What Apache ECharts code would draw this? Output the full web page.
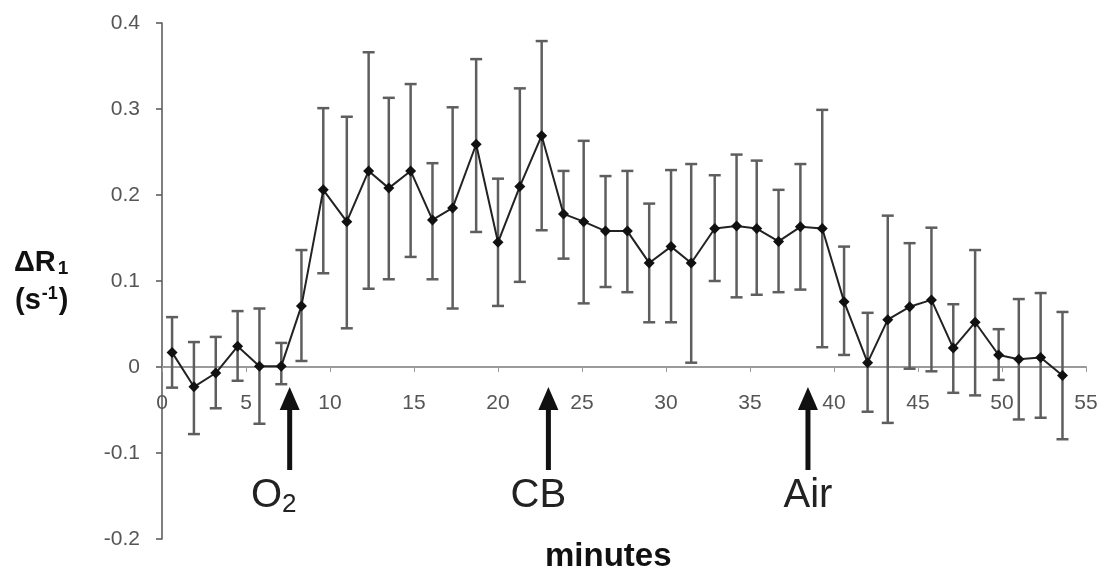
<!DOCTYPE html>
<html>
<head>
<meta charset="utf-8">
<script src="https://cdn.jsdelivr.net/npm/echarts@6/dist/echarts.min.js"></script>
<style>
html,body{margin:0;padding:0;background:#fff;}
#chart{width:1112px;height:572px;}
</style>
</head>
<body>
<div id="chart"></div>
<script>
// ---- data ----
var minutes = [0.6,1.9,3.2,4.5,5.8,7.1,8.3,9.6,11.0,12.3,13.5,14.8,16.1,17.3,18.7,20.0,21.3,22.6,23.9,25.1,26.4,27.7,29.0,30.3,31.5,32.9,34.2,35.4,36.7,38.0,39.3,40.6,42.0,43.2,44.5,45.8,47.1,48.4,49.8,51.0,52.3,53.6];
var meanR1 = [0.017,-0.023,-0.007,0.024,0.001,0.001,0.071,0.206,0.169,0.228,0.208,0.228,0.171,0.185,0.259,0.145,0.210,0.269,0.178,0.169,0.158,0.158,0.121,0.140,0.121,0.161,0.164,0.161,0.146,0.163,0.161,0.076,0.005,0.055,0.070,0.078,0.022,0.052,0.014,0.009,0.011,-0.010];
var errTop = [0.058,0.029,0.035,0.065,0.068,0.028,0.136,0.301,0.291,0.366,0.313,0.329,0.237,0.302,0.358,0.219,0.324,0.379,0.228,0.263,0.222,0.228,0.190,0.229,0.236,0.223,0.247,0.240,0.206,0.236,0.299,0.140,0.063,0.176,0.144,0.162,0.073,0.136,0.044,0.079,0.086,0.064];
var errBottom = [-0.024,-0.078,-0.048,-0.016,-0.066,-0.020,0.007,0.109,0.045,0.091,0.102,0.128,0.102,0.068,0.157,0.071,0.099,0.159,0.126,0.074,0.093,0.087,0.052,0.052,0.005,0.100,0.081,0.084,0.087,0.090,0.023,0.014,-0.052,-0.065,-0.002,-0.005,-0.030,-0.033,-0.015,-0.061,-0.059,-0.084];
var eventNames = ['O2','CB','Air'];
var eventTimes = [7.6,23.0,38.45];
var yTicks = [-0.2,-0.1,0,0.1,0.2,0.3,0.4];
var xTicks = [0,5,10,15,20,25,30,35,40,45,50,55];

// layout only: horizontal nudge (px) of each event caption relative to its arrow
var eventLabelShift = [-16,-10,0];

var meanData = minutes.map(function(m,i){return [m, meanR1[i]];});
var errData = minutes.map(function(m,i){return [m, errTop[i], errBottom[i]];});
var eventData = eventTimes.map(function(t,i){return [t, 0];});

var chart = echarts.init(document.getElementById('chart'));
var font = '"Liberation Sans", Arial, sans-serif';

var gridTop = 23, gridBottom = 33, H = 572;
var yMin = yTicks[0], yMax = yTicks[yTicks.length-1];
// move the x axis up so that it sits on y = 0
var xOffset = -((H - gridTop - gridBottom) * (0 - yMin) / (yMax - yMin));

chart.setOption({
  animation:false,
  backgroundColor:'#fff',
  grid:{left:162,right:26,top:gridTop,bottom:gridBottom,containLabel:false},
  xAxis:{
    type:'value',min:xTicks[0],max:xTicks[xTicks.length-1],interval:5,
    offset:xOffset,
    axisLine:{onZero:false,lineStyle:{color:'#9a9a9a',width:2}},
    axisTick:{show:true,inside:false,length:5,lineStyle:{color:'#9a9a9a',width:1}},
    axisLabel:{color:'#555',fontSize:21,fontFamily:font,margin:26},
    splitLine:{show:false}
  },
  yAxis:{
    type:'value',min:yMin,max:yMax,interval:0.1,
    axisLine:{show:true,onZero:false,lineStyle:{color:'#555',width:1.5}},
    axisTick:{show:true,length:6,lineStyle:{color:'#555',width:1.5}},
    axisLabel:{color:'#555',fontSize:21,fontFamily:font,margin:22,
      formatter:function(v){ v=Math.round(v*10)/10; return v===0?'0':v.toFixed(1);} },
    splitLine:{show:false}
  },
  graphic:[
    {type:'text',left:14,top:248,style:{
      text:'{b|ΔR}{sub|1}',
      rich:{b:{fontSize:29,fontWeight:'bold',fontFamily:font,fill:'#111'},
            sub:{fontSize:19,fontWeight:'bold',fontFamily:font,fill:'#111',verticalAlign:'bottom',padding:[13,0,0,2]}}
    }},
    {type:'text',left:15,top:285,style:{
      text:'{b|(s}{sup|-1}{b|)}',
      rich:{b:{fontSize:29,fontWeight:'bold',fontFamily:font,fill:'#111'},
            sup:{fontSize:18,fontWeight:'bold',fontFamily:font,fill:'#111',verticalAlign:'top',padding:[0,1,13,1]}}
    }},
    {type:'text',x:545,y:557,style:{text:'minutes',fontSize:33,fontWeight:'bold',fontFamily:font,fill:'#111',verticalAlign:'middle'}}
  ],
  series:[
    {
      type:'custom',name:'err',
      renderItem:function(params,api){
        var top = api.coord([api.value(0), api.value(1)]);
        var bot = api.coord([api.value(0), api.value(2)]);
        var cw = 6;
        var st = {stroke:'#5e5e5e',lineWidth:2.5};
        return {type:'group',children:[
          {type:'line',shape:{x1:top[0],y1:top[1],x2:bot[0],y2:bot[1]},style:st},
          {type:'line',shape:{x1:top[0]-cw,y1:top[1],x2:top[0]+cw,y2:top[1]},style:st},
          {type:'line',shape:{x1:bot[0]-cw,y1:bot[1],x2:bot[0]+cw,y2:bot[1]},style:st}
        ]};
      },
      encode:{x:0,y:[1,2]},
      data:errData,z:2
    },
    {
      type:'line',name:'mean',data:meanData,
      symbol:'diamond',symbolSize:11,showSymbol:true,
      lineStyle:{color:'#222',width:2},
      itemStyle:{color:'#111'},z:3
    },
    {
      type:'custom',name:'events',
      renderItem:function(params,api){
        var p = api.coord([api.value(0), api.value(1)]);
        var x = p[0], y0 = p[1];
        var tip = y0 + 20, headH = 23, headW = 10;
        var name = eventNames[params.dataIndex];
        var txt = name==='O2' ? '{n|O}{s|2}' : '{n|'+name+'}';
        return {type:'group',children:[
          {type:'polygon',shape:{points:[[x,tip],[x-headW,tip+headH],[x+headW,tip+headH]]},style:{fill:'#111'}},
          {type:'rect',shape:{x:x-2.5,y:tip+headH-2,width:5,height:62},style:{fill:'#111'}},
          {type:'text',x:x+eventLabelShift[params.dataIndex],y:y0+129,style:{
            text:txt,align:'center',verticalAlign:'middle',
            rich:{n:{fontSize:40,fontFamily:font,fill:'#222'},
                  s:{fontSize:26,fontFamily:font,fill:'#222',verticalAlign:'bottom',padding:[18,0,0,0]}}
          }}
        ]};
      },
      encode:{x:0,y:1},
      data:eventData,z:4,clip:false
    }
  ]
});
</script>
</body>
</html>
